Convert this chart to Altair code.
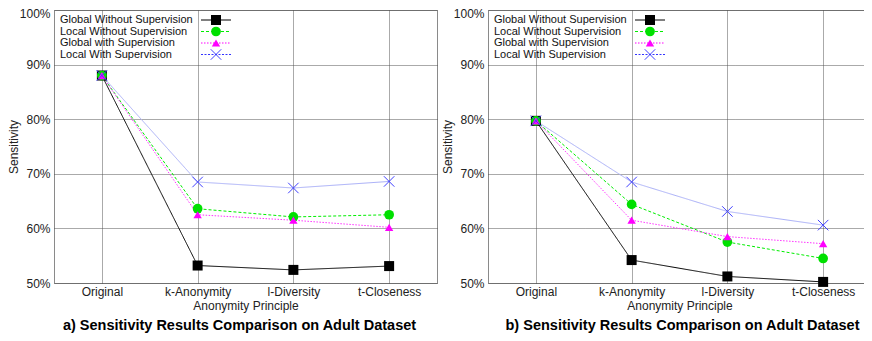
import altair as alt
import pandas as pd

principles = ["Original", "k-Anonymity", "l-Diversity", "t-Closeness"]
series = [
    "Global Without Supervision",
    "Local Without Supervision",
    "Global with Supervision",
    "Local With Supervision",
]

# panel a)
a_global_wo = [88.0, 53.2, 52.4, 53.1]
a_local_wo = [88.0, 63.6, 62.1, 62.5]
a_global_w = [88.0, 62.5, 61.5, 60.2]
a_local_w = [88.0, 68.5, 67.4, 68.6]

# panel b)
b_global_wo = [79.7, 54.2, 51.2, 50.2]
b_local_wo = [79.7, 64.4, 57.5, 54.5]
b_global_w = [79.7, 61.5, 58.5, 57.2]
b_local_w = [79.7, 68.5, 63.1, 60.6]

y_ticks = [50, 60, 70, 80, 90, 100]
titles = [
    "a) Sensitivity Results Comparison on Adult Dataset",
    "b) Sensitivity Results Comparison on Adult Dataset",
]

FONT = "Liberation Sans"
XPATH = "M-1,-1L1,1M-1,1L1,-1"

styles = [
    dict(line="#000000", lw=1, dash=[1, 0], mcol="#000000", shape="square", size=100, filled=True,
         leg_line="#000000", leg_dash=[1, 0]),
    dict(line="#00ee00", lw=1, dash=[3, 2], mcol="#00e000", shape="circle", size=95, filled=True,
         leg_line="#00ee00", leg_dash=[3, 2]),
    dict(line="#ff33ff", lw=1, dash=[1.5, 1.5], mcol="#ff00ff", shape="triangle-up", size=70, filled=True,
         leg_line="#ff00ff", leg_dash=[1.5, 1.5]),
    dict(line="#aab0f8", lw=1, dash=[1, 0], mcol="#3f3fff", shape=XPATH, size=110, filled=False,
         leg_line="#3333ff", leg_dash=[2, 1.5]),
]

W = 383
H = 273


def panel(vals, title, dx):
    x_enc = alt.X(
        "principle:N",
        sort=principles,
        scale=alt.Scale(type="point", padding=0.5),
        axis=alt.Axis(title="Anonymity Principle", labelAngle=0, grid=True,
                      labelPadding=3, titlePadding=3),
    )
    y_enc = alt.Y(
        "value:Q",
        scale=alt.Scale(domain=[50, 100], nice=False, zero=False),
        axis=alt.Axis(
            values=y_ticks, labelExpr="datum.value + '%'", title="Sensitivity",
            grid=True, labelPadding=4, titlePadding=-1,
            labelOffset={"condition": {"test": "datum.value >= 100", "value": 3}, "value": 0},
        ),
    )
    layers = []
    for s, v, st in zip(series, vals, styles):
        df = pd.DataFrame({"principle": principles, "value": v, "series": s})
        base = alt.Chart(df).encode(x=x_enc, y=y_enc)
        layers.append(base.mark_line(color=st["line"], strokeWidth=st["lw"], strokeDash=st["dash"]))
    for s, v, st in zip(series, vals, styles):
        df = pd.DataFrame({"principle": principles, "value": v, "series": s})
        base = alt.Chart(df).encode(x=x_enc, y=y_enc)
        if st["filled"]:
            pm = base.mark_point(shape=st["shape"], size=st["size"], filled=True, color=st["mcol"], opacity=1)
        else:
            pm = base.mark_point(shape=st["shape"], size=st["size"], filled=False, color=st["mcol"],
                                 strokeWidth=1, opacity=1)
        layers.append(pm)
    # legend (labels left, samples right)
    for i, (s, st) in enumerate(zip(series, styles)):
        yy = 10 + 11.5 * i
        ldf = pd.DataFrame({"label": [s]})
        lb = alt.Chart(ldf)
        layers.append(lb.mark_text(align="left", baseline="middle", fontSize=11, font=FONT, color="#111")
                      .encode(x=alt.value(6), y=alt.value(yy), text="label:N"))
        layers.append(lb.mark_rule(color=st["leg_line"], strokeWidth=1, strokeDash=st["leg_dash"])
                      .encode(x=alt.value(147), x2=alt.value(177), y=alt.value(yy)))
        if st["filled"]:
            lp = lb.mark_point(shape=st["shape"], size=st["size"], filled=True, color=st["mcol"], opacity=1)
        else:
            lp = lb.mark_point(shape=st["shape"], size=st["size"], filled=False, color=st["mcol"],
                               strokeWidth=1, opacity=1)
        layers.append(lp.encode(x=alt.value(162), y=alt.value(yy)))
    return alt.layer(*layers).properties(
        width=W, height=H,
        title=alt.TitleParams(text=title, orient="bottom", anchor="middle", fontSize=14.5,
                              fontWeight="bold", font=FONT, color="#000", offset=8, dx=dx),
    )


left = panel([a_global_wo, a_local_wo, a_global_w, a_local_w], titles[0], -6)
right = panel([b_global_wo, b_local_wo, b_global_w, b_local_w], titles[1], 3)

chart = (
    alt.hconcat(left, right, spacing=51, bounds="flush")
    .properties(
        autosize=alt.AutoSizeParams(type="none"),
        padding={"left": 46, "top": 2, "right": 810, "bottom": 331},
        background="white",
    )
    .configure_view(stroke="#8a8a8a", strokeWidth=1)
    .configure_axis(
        labelFont=FONT, labelFontSize=12, labelColor="#222",
        titleFont=FONT, titleFontSize=12, titleFontWeight="normal", titleColor="#222",
        domain=False, ticks=False,
        gridColor="#555", gridDash=[1, 1], gridWidth=1, gridOpacity=1,
    )
)

chart.save("out.html", embed_options={"renderer": "svg", "actions": False})
